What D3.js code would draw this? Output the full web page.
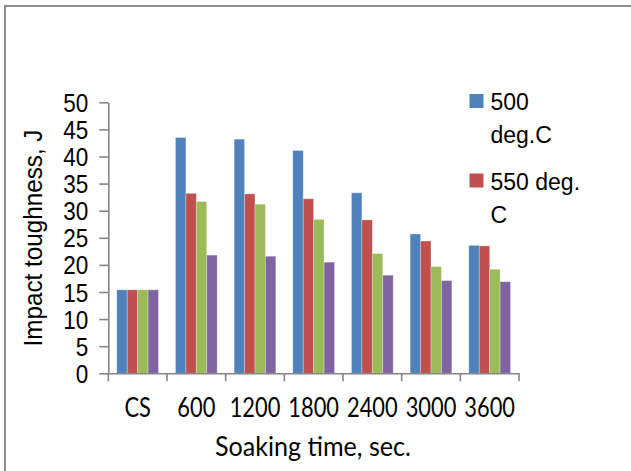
<!DOCTYPE html>
<html>
<head>
<meta charset="utf-8">
<script src="https://cdn.jsdelivr.net/npm/d3@7"></script>
<style>
  html, body { margin: 0; padding: 0; background: #fff; }
  svg { display: block; }
</style>
</head>
<body>
<svg id="chart" width="631" height="471"></svg>
<script>
// ---- data ----
const categories = ["CS", "600", "1200", "1800", "2400", "3000", "3600"];
const seriesNames = ["500 deg.C", "550 deg. C", "Series 3", "Series 4"];
const s500 = [15.4, 43.5, 43.2, 41.1, 33.3, 25.7, 23.6];
const s550 = [15.4, 33.2, 33.1, 32.2, 28.3, 24.4, 23.5];
const s3   = [15.4, 31.7, 31.2, 28.4, 22.1, 19.7, 19.2];
const s4   = [15.4, 21.8, 21.6, 20.5, 18.1, 17.1, 16.9];
const yTicks = [0, 5, 10, 15, 20, 25, 30, 35, 40, 45, 50];
const legendLines = [["500", "deg.C"], ["550 deg.", "C"]];
const xTitle = "Soaking time, sec.";
const yTitle = "Impact toughness, J";
const colors = ["#4F81BD", "#C0504D", "#9BBB59", "#8064A2"];

const seriesValues = [s500, s550, s3, s4];

const svg = d3.select("#chart");

// frame
svg.append("rect")
  .attr("x", 5).attr("y", 6).attr("width", 700).attr("height", 600)
  .attr("fill", "none").attr("stroke", "#8f8f8f").attr("stroke-width", 2);

const plotLeft = 108.3, plotRight = 519, plotTop = 102.3, plotBottom = 373.3;

const x0 = d3.scaleBand().domain(categories).range([plotLeft, plotRight]).padding(0);
const groupW = 41.7;
const off = (x0.bandwidth() - groupW) / 2;
const x1 = d3.scaleBand().domain(d3.range(seriesValues.length)).range([off, off + groupW]).padding(0);
const y = d3.scaleLinear().domain([0, 50]).range([plotBottom, plotTop]);

// bars
const g = svg.append("g");
seriesValues.forEach((vals, si) => {
  g.selectAll(null).data(vals).enter().append("rect")
    .attr("x", (d, i) => x0(categories[i]) + x1(si))
    .attr("y", d => y(d))
    .attr("width", x1.bandwidth())
    .attr("height", d => y(0) - y(d))
    .attr("fill", colors[si])
    .attr("stroke", "#ffffff")
    .attr("stroke-opacity", 0.35)
    .attr("stroke-width", 0.8);
});

const axisColor = "#868686";

// y axis
const yAxis = svg.append("g")
  .attr("transform", `translate(${plotLeft},0)`)
  .call(d3.axisLeft(y).tickValues(yTicks).tickSize(9).tickSizeOuter(0).tickPadding(11));
yAxis.select(".domain").attr("stroke", axisColor).attr("stroke-width", 1.6);
yAxis.selectAll(".tick line").attr("stroke", axisColor).attr("stroke-width", 1.6);
yAxis.selectAll(".tick text")
  .attr("fill", "#000")
  .style("font-family", "'Liberation Sans', Arial, sans-serif")
  .style("font-size", "25px")
  .attr("x", -20 / 0.9)
  .attr("transform", "scale(0.9,1)")
  .attr("dy", "0.36em");

// x axis (boundary ticks)
const xAxis = svg.append("g")
  .attr("transform", `translate(0,${plotBottom})`)
  .call(d3.axisBottom(x0).tickSize(0).tickFormat(""));
xAxis.select(".domain").attr("stroke", axisColor).attr("stroke-width", 1.6);
const bounds = categories.map(c => x0(c)).concat([x0.range()[1]]);
xAxis.selectAll(".bt").data(bounds).enter().append("line")
  .attr("x1", d => d).attr("x2", d => d)
  .attr("y1", 0).attr("y2", 8)
  .attr("stroke", axisColor).attr("stroke-width", 1.6);

// x tick labels
svg.append("g").selectAll("text").data(categories).enter().append("text")
  .attr("transform", d => `translate(${x0(d) + x0.bandwidth() / 2},417) scale(0.84,1)`)
  .attr("text-anchor", "middle")
  .style("font-family", "Lato, sans-serif")
  .style("font-size", "26px")
  .attr("fill", "#000")
  .text(d => d);

// x title
svg.append("text")
  .attr("x", 215).attr("y", 456)
  .attr("textLength", 196).attr("lengthAdjust", "spacingAndGlyphs")
  .style("font-family", "Lato, sans-serif")
  .style("font-size", "26px")
  .attr("fill", "#000")
  .text(xTitle);

// y title
svg.append("text")
  .attr("transform", "translate(42,238) rotate(-90)")
  .attr("text-anchor", "middle")
  .attr("textLength", 217).attr("lengthAdjust", "spacingAndGlyphs")
  .style("font-family", "'Liberation Sans', Arial, sans-serif")
  .style("font-size", "25px")
  .attr("fill", "#000")
  .text(yTitle);

// legend (only the visible entries)
const legendTop = [94, 173.5];
const leg = svg.append("g");
legendLines.forEach((lines, i) => {
  leg.append("rect")
    .attr("x", 469.5).attr("y", legendTop[i]).attr("width", 14).attr("height", 14)
    .attr("fill", colors[i]);
  const t = leg.append("text")
    .style("font-family", "'Liberation Sans', Arial, sans-serif")
    .style("font-size", "23px")
    .attr("fill", "#000");
  lines.forEach((ln, k) => {
    t.append("tspan").attr("x", 490.5).attr("y", legendTop[i] + 16 + k * 33).text(ln);
  });
});
</script>
</body>
</html>
